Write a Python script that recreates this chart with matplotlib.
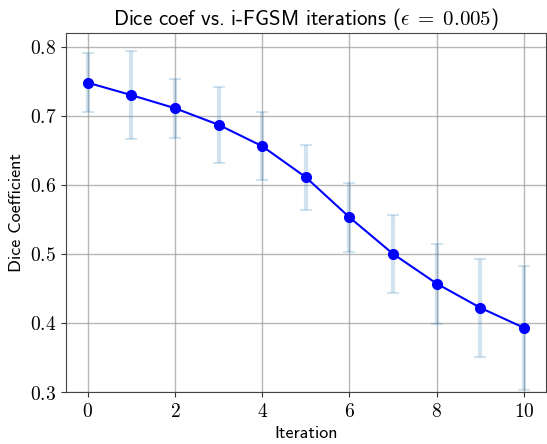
import numpy as np
import matplotlib
matplotlib.use("Agg")
import matplotlib.pyplot as plt

plt.rcParams['mathtext.fontset'] = 'cm'

iterations = np.arange(0, 11)
dice_mean = [0.748, 0.730, 0.711, 0.687, 0.656, 0.611, 0.553, 0.500, 0.457, 0.422, 0.393]
dice_std = [0.043, 0.064, 0.043, 0.055, 0.049, 0.047, 0.050, 0.057, 0.058, 0.071, 0.090]

fig = plt.figure(figsize=(5.47, 4.44), dpi=100)
ax = fig.add_axes([0.1207, 0.1171, 0.877, 0.8086])

ax.errorbar(iterations, dice_mean, yerr=dice_std, fmt='none', ecolor='tab:blue',
            alpha=0.2, elinewidth=3, capsize=4, capthick=1.5)
ax.plot(iterations, dice_mean, 'o-', color='blue', markersize=7, linewidth=1.5)

ax.set_xlim(-0.5, 10.5)
ax.set_ylim(0.3, 0.82)
ax.set_xticks([0, 2, 4, 6, 8, 10])
ax.set_yticks([0.3, 0.4, 0.5, 0.6, 0.7, 0.8])
ax.set_xticklabels(['$%d$' % t for t in [0, 2, 4, 6, 8, 10]])
ax.set_yticklabels(['$%.1f$' % t for t in [0.3, 0.4, 0.5, 0.6, 0.7, 0.8]])
ax.tick_params(labelsize=14, colors='#333333', labelcolor='black')
ax.grid(True, color='#999999', linewidth=1, alpha=0.7)
for s in ax.spines.values():
    s.set_color('#444444')

ax.set_xlabel('Iteration', family='cmss10', fontsize=13)
ax.set_ylabel('Dice Coefficient', family='cmss10', fontsize=13)
ax.set_title(r'Dice coef vs. i-FGSM iterations ($\epsilon\;=\;0.005$)', family='cmss10', fontsize=15)

fig.savefig('out.png')
